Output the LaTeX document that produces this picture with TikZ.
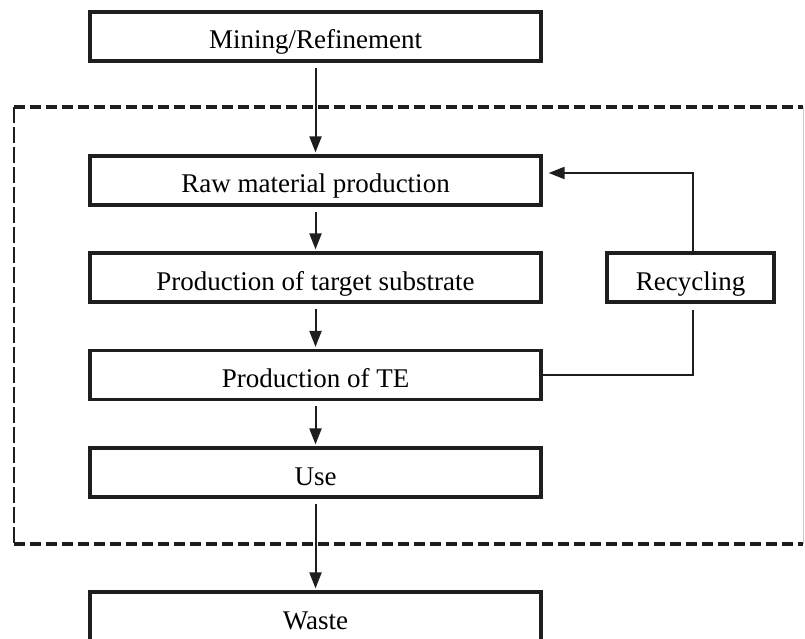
\documentclass[tikz,border=0pt]{standalone}
\usepackage{fontspec}
\setmainfont{Liberation Serif}
\usepackage{xcolor}
\usepackage{tikz}
\usetikzlibrary{arrows.meta, calc}
\definecolor{mydark}{RGB}{30,30,30}
\definecolor{mygrey}{RGB}{200,200,200}
\tikzset{
  stage/.style={rectangle, draw=mydark, fill=white, line width=3.2pt,
    minimum width=451pt, minimum height=49pt, inner sep=0pt,
    text height=25pt, text depth=0pt,
    font=\fontsize{27}{32}\selectfont},
  smallstage/.style={stage, minimum width=167pt},
  flow/.style={-{Triangle[length=16pt,width=12pt]}, line width=2pt,
    color=mydark, shorten <=5pt, shorten >=2pt},
  loopline/.style={line width=2pt, color=mydark},
  boundary/.style={draw=mydark, line width=3.6pt, dash pattern=on 11pt off 5pt},
  sideboundary/.style={draw=mydark, line width=2pt, dash pattern=on 16pt off 4pt}
}

\begin{document}
\begin{tikzpicture}[x=1pt, y=-1pt]
  \useasboundingbox (0,0) rectangle (805,639);
  % system boundary
  \coordinate (tl) at (14,107);
  \coordinate (tr) at (803,107);
  \coordinate (bl) at (14,544);
  \coordinate (br) at (803,544);
  \draw[boundary] (tl) -- (tr);
  \draw[boundary] (bl) -- (br);
  \draw[sideboundary] (tl) -- (bl);
  \draw[draw=mygrey, line width=1pt] (tr) -- (br);

  % life cycle stages
  \node[stage] (mining) at (315.5,36.5) {Mining/Refinement};
  \node[stage] (raw) at (315.5,180.5) {Raw material production};
  \node[stage] (substrate) at (315.5,277.5) {Production of target substrate};
  \node[stage] (te) at (315.5,375) {Production of TE};
  \node[stage] (use) at (315.5,472.5) {Use};
  \node[stage] (waste) at (315.5,616.5) {Waste};
  \node[smallstage] (recycle) at (690.5,277.5) {Recycling};

  % main flow
  \draw[flow] (mining) -- (raw);
  \draw[flow] (raw) -- (substrate);
  \draw[flow] (substrate) -- (te);
  \draw[flow] (te) -- (use);
  \draw[flow] (use) -- (waste);

  % recycling loop
  \draw[loopline] (te.east) -| ([xshift=2.5pt, yshift=-6pt]recycle.south);
  \draw[flow, shorten <=0pt] ([xshift=2.5pt]recycle.north) |- ([xshift=4pt, yshift=7.5pt]raw.east);
\end{tikzpicture}
\end{document}
